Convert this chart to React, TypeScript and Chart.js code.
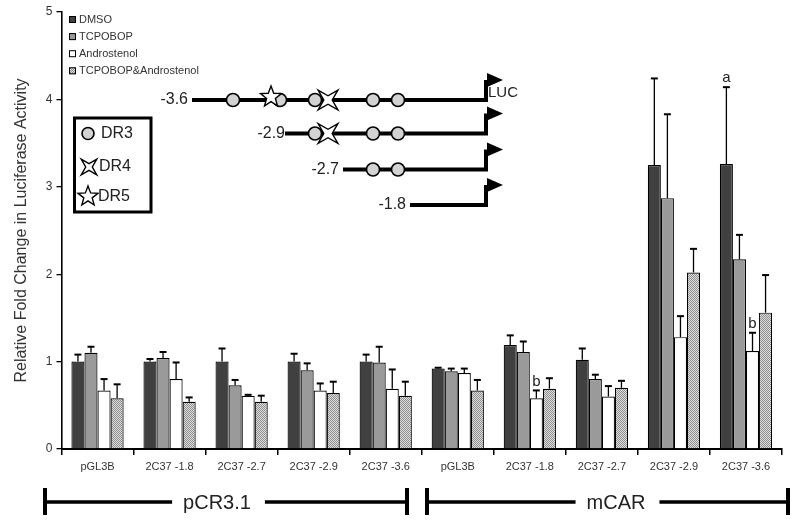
import { useEffect, useRef } from "react";
import { Chart, registerables } from "chart.js";

Chart.register(...registerables);

const FONT = "'Liberation Sans', Arial, Helvetica, sans-serif";

// ---------- data ----------
const categories = [
  "pGL3B", "2C37 -1.8", "2C37 -2.7", "2C37 -2.9", "2C37 -3.6",
  "pGL3B", "2C37 -1.8", "2C37 -2.7", "2C37 -2.9", "2C37 -3.6",
];
const seriesNames = ["DMSO", "TCPOBOP", "Androstenol", "TCPOBOP&Androstenol"];
const dmso = [1.0, 1.0, 1.0, 1.0, 1.0, 0.92, 1.19, 1.02, 3.25, 3.26];
const dmsoErr = [0.08, 0.03, 0.15, 0.09, 0.08, 0.01, 0.11, 0.13, 0.99, 0.88];
const tcpobop = [1.1, 1.04, 0.73, 0.9, 0.99, 0.89, 1.11, 0.8, 2.87, 2.17];
const tcpobopErr = [0.07, 0.07, 0.06, 0.08, 0.18, 0.03, 0.12, 0.05, 0.96, 0.28];
const andro = [0.67, 0.8, 0.61, 0.67, 0.69, 0.87, 0.58, 0.6, 1.28, 1.12];
const androErr = [0.13, 0.19, 0.01, 0.08, 0.22, 0.05, 0.09, 0.12, 0.24, 0.21];
const combo = [0.58, 0.54, 0.54, 0.64, 0.61, 0.67, 0.69, 0.7, 2.02, 1.56];
const comboErr = [0.16, 0.05, 0.07, 0.13, 0.16, 0.12, 0.12, 0.08, 0.27, 0.43];
const yTicks = [0, 1, 2, 3, 4, 5];
const yTitle = "Relative Fold Change in Luciferase Activity";
const annotations = [
  { series: 0, index: 9, text: "a" },
  { series: 2, index: 6, text: "b" },
  { series: 2, index: 9, text: "b" },
];
const groupLabels = ["pCR3.1", "mCAR"];
const constructNames = ["-3.6", "-2.9", "-2.7", "-1.8"];
const motifNames = ["DR3", "DR4", "DR5"];

const values = [dmso, tcpobop, andro, combo];
const errors = [dmsoErr, tcpobopErr, androErr, comboErr];

function makePattern(): CanvasPattern | string {
  const c = document.createElement("canvas");
  c.width = 2;
  c.height = 2;
  const g = c.getContext("2d");
  if (!g) return "#b6b6b6";
  g.fillStyle = "#dedede";
  g.fillRect(0, 0, 2, 2);
  g.fillStyle = "#8e8e8e";
  g.fillRect(0, 0, 1, 1);
  g.fillRect(1, 1, 1, 1);
  const p = g.createPattern(c, "repeat");
  return p || "#b6b6b6";
}

function star(ctx: CanvasRenderingContext2D, cx: number, cy: number, n: number, rOut: number, rIn: number, rot: number) {
  ctx.beginPath();
  for (let i = 0; i < n * 2; i++) {
    const r = i % 2 === 0 ? rOut : rIn;
    const a = rot + (i * Math.PI) / n;
    const x = cx + r * Math.sin(a);
    const y = cy - r * Math.cos(a);
    if (i === 0) ctx.moveTo(x, y);
    else ctx.lineTo(x, y);
  }
  ctx.closePath();
  ctx.fillStyle = "#fff";
  ctx.fill();
  ctx.strokeStyle = "#000";
  ctx.lineWidth = 1.4;
  ctx.stroke();
}

function dr3(ctx: CanvasRenderingContext2D, cx: number, cy: number, r: number) {
  ctx.beginPath();
  ctx.arc(cx, cy, r, 0, Math.PI * 2);
  ctx.fillStyle = "#d2d2d2";
  ctx.fill();
  ctx.strokeStyle = "#000";
  ctx.lineWidth = 1.6;
  ctx.stroke();
}
const dr4 = (ctx: CanvasRenderingContext2D, cx: number, cy: number, r: number) =>
  star(ctx, cx, cy, 4, r, r * 0.3, Math.PI / 4);
const dr5 = (ctx: CanvasRenderingContext2D, cx: number, cy: number, r: number) =>
  star(ctx, cx, cy, 5, r, r * 0.42, 0);

export default function App() {
  const ref = useRef<HTMLCanvasElement | null>(null);

  useEffect(() => {
    document.body.style.margin = "0";
    const canvas = ref.current;
    if (!canvas) return;
    const pattern = makePattern();
    const fills: (string | CanvasPattern)[] = ["#404040", "#9a9a9a", "#ffffff", pattern];

    const overlay = {
      id: "overlay",
      afterDatasetsDraw(chart: any) {
        const ctx: CanvasRenderingContext2D = chart.ctx;
        const yScale = chart.scales.y;
        ctx.save();
        // error bars
        values.forEach((vals, si) => {
          const meta = chart.getDatasetMeta(si);
          meta.data.forEach((bar: any, j: number) => {
            const x = bar.x;
            const y0 = bar.y;
            const y1 = yScale.getPixelForValue(vals[j] + errors[si][j]);
            ctx.strokeStyle = "#000";
            ctx.lineWidth = 1.3;
            ctx.beginPath();
            ctx.moveTo(x, y0);
            ctx.lineTo(x, y1);
            ctx.stroke();
            ctx.lineWidth = 2;
            ctx.beginPath();
            ctx.moveTo(x - 3.5, y1);
            ctx.lineTo(x + 3.5, y1);
            ctx.stroke();
          });
        });
        // significance letters
        ctx.fillStyle = "#222";
        ctx.font = `15px ${FONT}`;
        ctx.textAlign = "center";
        ctx.textBaseline = "middle";
        annotations.forEach((a) => {
          const bar = chart.getDatasetMeta(a.series).data[a.index];
          const y1 = yScale.getPixelForValue(values[a.series][a.index] + errors[a.series][a.index]);
          ctx.fillText(a.text, bar.x, y1 - 9);
        });
        ctx.restore();
      },
      afterDraw(chart: any) {
        const ctx: CanvasRenderingContext2D = chart.ctx;
        ctx.save();
        // series legend
        ctx.font = `11px ${FONT}`;
        ctx.textBaseline = "middle";
        ctx.textAlign = "left";
        seriesNames.forEach((name, i) => {
          const y = 19.5 + i * 17.1;
          ctx.fillStyle = fills[i] as any;
          ctx.fillRect(69, y - 3.5, 7, 7);
          ctx.strokeStyle = "#000";
          ctx.lineWidth = 1;
          ctx.strokeRect(69.5, y - 3, 6, 6);
          ctx.fillStyle = "#333";
          ctx.fillText(name, 79, y);
        });

        // promoter constructs
        const tss = 486;
        const rows = [
          { y: 100, start: 192, labelRight: 188, dr3: [233, 280, 315, 373, 398], dr4: [328], dr5: [271] },
          { y: 133.5, start: 285, labelRight: 285, dr3: [315, 373, 398], dr4: [328], dr5: [] as number[] },
          { y: 169.5, start: 343, labelRight: 339, dr3: [373, 398], dr4: [] as number[], dr5: [] as number[] },
          { y: 205, start: 410, labelRight: 406, dr3: [] as number[], dr4: [] as number[], dr5: [] as number[] },
        ];
        rows.forEach((r, i) => {
          ctx.strokeStyle = "#000";
          ctx.lineWidth = 4;
          ctx.lineCap = "butt";
          ctx.beginPath();
          ctx.moveTo(r.start, r.y);
          ctx.lineTo(tss, r.y);
          ctx.lineTo(tss, r.y - 20);
          ctx.stroke();
          ctx.fillStyle = "#000";
          ctx.beginPath();
          ctx.moveTo(tss + 1, r.y - 27);
          ctx.lineTo(tss + 17, r.y - 20);
          ctx.lineTo(tss + 1, r.y - 13);
          ctx.closePath();
          ctx.fill();
          r.dr3.forEach((x) => dr3(ctx, x, r.y, 6.5));
          r.dr5.forEach((x) => dr5(ctx, x, r.y - 3, 11));
          r.dr4.forEach((x) => dr4(ctx, x, r.y, 14));
          ctx.fillStyle = "#222";
          ctx.font = `16px ${FONT}`;
          ctx.textAlign = "right";
          ctx.textBaseline = "middle";
          ctx.fillText(constructNames[i], r.labelRight, r.y);
        });
        ctx.font = `15px ${FONT}`;
        ctx.textAlign = "left";
        ctx.fillStyle = "#222";
        ctx.fillText("LUC", tss + 2, 93);

        // motif key box
        ctx.strokeStyle = "#000";
        ctx.lineWidth = 3;
        ctx.strokeRect(74.5, 118, 76.5, 94);
        dr3(ctx, 88, 133.5, 6);
        dr4(ctx, 89, 167, 11);
        dr5(ctx, 88, 196.5, 10.5);
        ctx.fillStyle = "#222";
        ctx.font = `16px ${FONT}`;
        ctx.textAlign = "left";
        ctx.textBaseline = "middle";
        ctx.fillText(motifNames[0], 101, 134);
        ctx.fillText(motifNames[1], 99, 167);
        ctx.fillText(motifNames[2], 98, 197);

        // group brackets
        const brackets = [
          { l: 45, r: 407, c: 217 },
          { l: 427, r: 788, c: 616 },
        ];
        ctx.font = `20px ${FONT}`;
        ctx.textAlign = "center";
        brackets.forEach((b, i) => {
          const w = ctx.measureText(groupLabels[i]).width;
          ctx.strokeStyle = "#000";
          ctx.lineWidth = 4;
          ctx.beginPath();
          ctx.moveTo(b.l, 488);
          ctx.lineTo(b.l, 515);
          ctx.moveTo(b.r, 488);
          ctx.lineTo(b.r, 515);
          ctx.stroke();
          ctx.lineWidth = 3.5;
          ctx.beginPath();
          ctx.moveTo(b.l, 502);
          ctx.lineTo(b.c - w / 2 - 11, 502);
          ctx.moveTo(b.c + w / 2 + 14, 502);
          ctx.lineTo(b.r, 502);
          ctx.stroke();
          ctx.fillStyle = "#222";
          ctx.fillText(groupLabels[i], b.c, 503);
        });
        ctx.restore();
      },
    };

    const chart = new Chart(canvas, {
      type: "bar",
      data: {
        labels: categories,
        datasets: seriesNames.map((name, i) => ({
          label: name,
          data: values[i],
          backgroundColor: fills[i] as any,
          borderColor: "#000",
          borderWidth: 1.2,
          barPercentage: 1,
          categoryPercentage: 0.725,
        })),
      },
      options: {
        responsive: false,
        animation: false,
        layout: { padding: { left: 0, right: 18, top: 12, bottom: 0 } },
        plugins: { legend: { display: false }, tooltip: { enabled: false } },
        scales: {
          x: {
            afterFit: (s: any) => {
              s.height = 80;
            },
            grid: {
              display: true,
              offset: true,
              drawOnChartArea: false,
              drawTicks: true,
              tickLength: 6,
              color: "#000",
              lineWidth: 1.5,
            },
            border: { display: true, color: "#000", width: 2 },
            ticks: { font: { size: 11, family: FONT }, color: "#333", padding: 5 },
          },
          y: {
            min: 0,
            max: 5,
            afterFit: (s: any) => {
              s.width = 61.5;
            },
            afterBuildTicks: (s: any) => {
              s.ticks = yTicks.map((v) => ({ value: v }));
            },
            grid: {
              display: true,
              drawOnChartArea: false,
              drawTicks: true,
              tickLength: 5,
              color: "#000",
              lineWidth: 1.3,
            },
            border: { display: true, color: "#000", width: 1.6 },
            ticks: { font: { size: 12, family: FONT }, color: "#333", padding: 4 },
            title: {
              display: true,
              text: yTitle,
              font: { size: 16, family: FONT },
              color: "#333",
              padding: { top: 12, bottom: 0 },
            },
          },
        },
      },
      plugins: [overlay],
    });
    return () => chart.destroy();
  }, []);

  return (
    <div style={{ width: 800, height: 529, position: "relative" }}>
      <canvas ref={ref} width={800} height={529} style={{ display: "block" }} />
    </div>
  );
}
